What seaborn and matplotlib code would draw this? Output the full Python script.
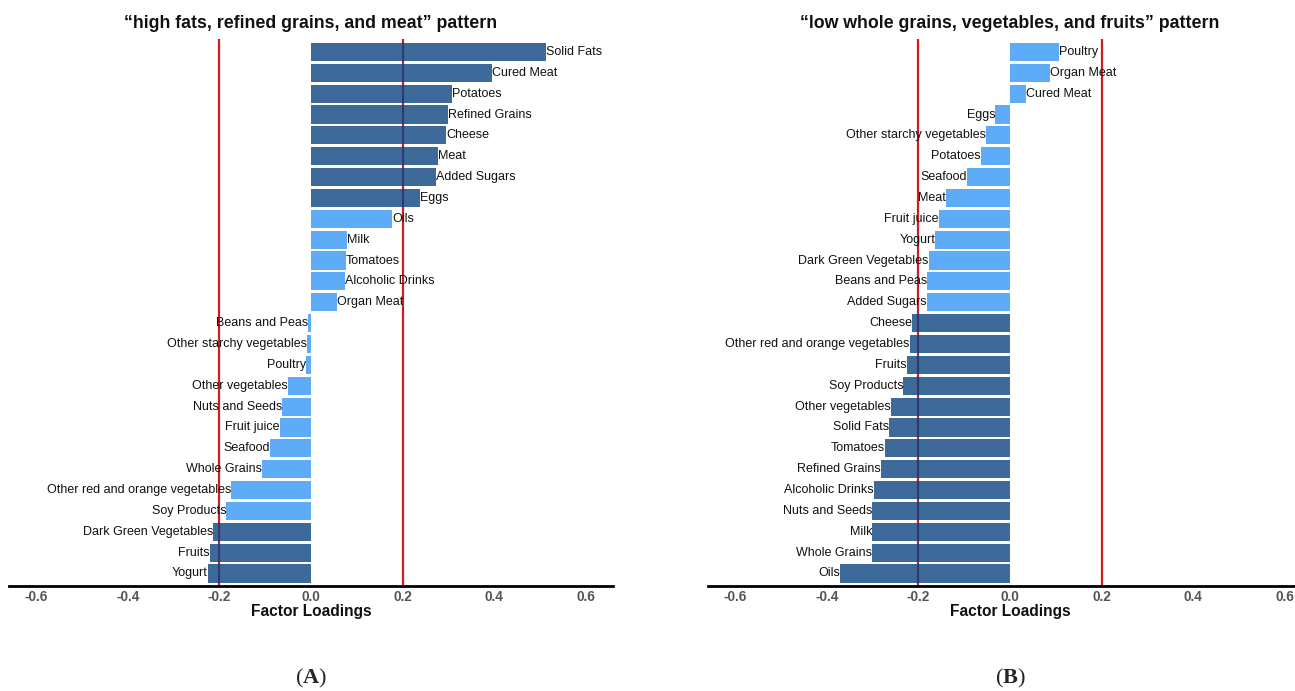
import matplotlib
matplotlib.use("Agg")
import matplotlib.pyplot as plt
import seaborn as sns
import pandas as pd

# Factor loadings of the food groups for the two dietary patterns
foods_a = ["Solid Fats", "Cured Meat", "Potatoes", "Refined Grains", "Cheese", "Meat",
           "Added Sugars", "Eggs", "Oils", "Milk", "Tomatoes", "Alcoholic Drinks",
           "Organ Meat", "Beans and Peas", "Other starchy vegetables", "Poultry",
           "Other vegetables", "Nuts and Seeds", "Fruit juice", "Seafood", "Whole Grains",
           "Other red and orange vegetables", "Soy Products", "Dark Green Vegetables",
           "Fruits", "Yogurt"]
loadings_a = [0.513, 0.395, 0.309, 0.299, 0.295, 0.278, 0.273, 0.239, 0.177, 0.078,
              0.076, 0.075, 0.056, -0.007, -0.008, -0.011, -0.051, -0.063, -0.068,
              -0.089, -0.106, -0.175, -0.185, -0.214, -0.221, -0.225]

foods_b = ["Poultry", "Organ Meat", "Cured Meat", "Eggs", "Other starchy vegetables",
           "Potatoes", "Seafood", "Meat", "Fruit juice", "Yogurt", "Dark Green Vegetables",
           "Beans and Peas", "Added Sugars", "Cheese", "Other red and orange vegetables",
           "Fruits", "Soy Products", "Other vegetables", "Solid Fats", "Tomatoes",
           "Refined Grains", "Alcoholic Drinks", "Nuts and Seeds", "Milk", "Whole Grains",
           "Oils"]
loadings_b = [0.107, 0.088, 0.035, -0.032, -0.052, -0.064, -0.095, -0.140, -0.156,
              -0.163, -0.178, -0.181, -0.182, -0.214, -0.219, -0.226, -0.233, -0.260,
              -0.264, -0.274, -0.283, -0.297, -0.301, -0.301, -0.302, -0.372]

titles = ["\u201chigh fats, refined grains, and meat\u201d pattern",
          "\u201clow whole grains, vegetables, and fruits\u201d pattern"]
panel_tags = ["A", "B"]
cutoff = 0.2
x_ticks = [-0.6, -0.4, -0.2, 0.0, 0.2, 0.4, 0.6]

DARK = "#3e6a9a"
LIGHT = "#5eacf8"
RED = "#cc1f24"
NAVY = "#2c3a78"

sns.set_theme(style="white")
plt.rcParams["font.family"] = ["Liberation Sans", "DejaVu Sans"]
plt.rcParams["mathtext.fontset"] = "custom"
plt.rcParams["mathtext.rm"] = "Liberation Serif"
plt.rcParams["mathtext.bf"] = "Liberation Serif:bold"

W, H = 1295, 691
fig = plt.figure(figsize=(W / 100, H / 100), dpi=100)

# axes boxes in pixels: left, top, width, height
boxes = [(9, 39, 604, 547), (708, 39, 604, 547)]


def draw_panel(ax, foods, loadings, title):
    df = pd.DataFrame({"food": foods, "loading": loadings})
    df["strength"] = ["strong" if abs(v) >= cutoff else "weak" for v in df["loading"]]
    sns.barplot(data=df, x="loading", y="food", hue="strength", order=foods,
                palette={"strong": DARK, "weak": LIGHT}, dodge=False, width=0.87,
                saturation=1, legend=False, ax=ax, zorder=2, linewidth=0)

    # cut-off lines; where they cross a bar they show through in a dark tone
    for xv in (-cutoff, cutoff):
        ax.axvline(xv, color=RED, lw=1.6, zorder=1)
        for patch in list(ax.patches):
            ln = ax.axvline(xv, color=NAVY, lw=1.6, zorder=3)
            ln.set_clip_path(patch)

    for i, (name, v) in enumerate(zip(foods, loadings)):
        ax.text(v, i, name, ha="left" if v >= 0 else "right", va="center",
                fontsize=9, color="#111111", zorder=4)

    ax.set_xlim(-0.66, 0.66)
    ax.set_ylim(len(foods) - 0.4, -0.62)
    ax.set_xticks(x_ticks)
    ax.set_xticklabels([f"{t:.1f}" for t in x_ticks], fontsize=9.8, fontweight="bold",
                       color="#555555")
    ax.tick_params(axis="x", length=0, pad=3)
    ax.set_yticks([])
    ax.set_ylabel("")
    ax.set_xlabel("Factor Loadings", fontsize=11.2, fontweight="bold", color="#111111",
                  labelpad=0)
    for side in ("top", "right", "left"):
        ax.spines[side].set_visible(False)
    ax.spines["bottom"].set_color("black")
    ax.spines["bottom"].set_linewidth(2)
    ax.set_title(title, fontsize=12.8, fontweight="bold", color="#111111", pad=8)


for (l, t, w, h), foods, loadings, title, tag in zip(
        boxes, [foods_a, foods_b], [loadings_a, loadings_b], titles, panel_tags):
    ax = fig.add_axes([l / W, 1 - (t + h) / H, w / W, h / H])
    draw_panel(ax, foods, loadings, title)
    cx = (l + w / 2) / W
    fig.text(cx, 1 - 678 / H, rf"($\mathbf{{{tag}}}$)", ha="center", va="center",
             fontsize=16, family="Liberation Serif")

fig.savefig("out.png", dpi=100)
